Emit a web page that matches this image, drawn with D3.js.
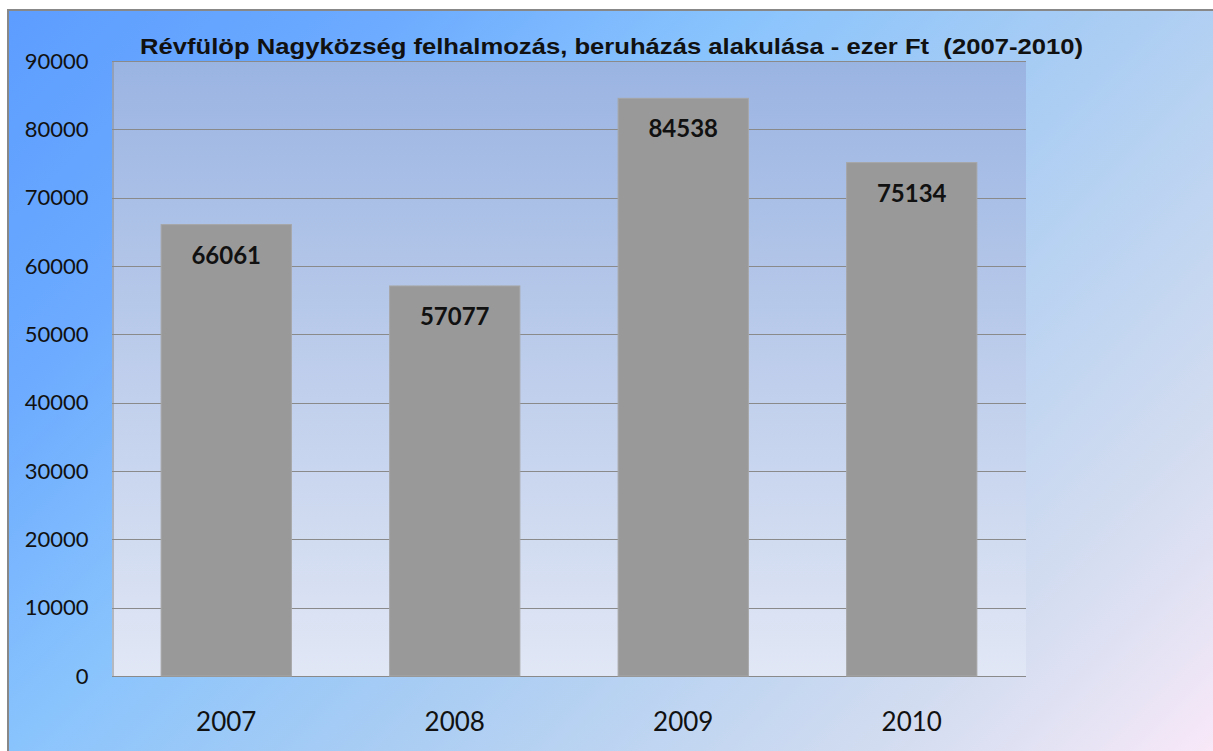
<!DOCTYPE html>
<html>
<head>
<meta charset="utf-8">
<script src="https://cdn.jsdelivr.net/npm/d3@7"></script>
<style>
  html, body { margin: 0; padding: 0; background: #ffffff; }
  svg { display: block; }
</style>
</head>
<body>
<svg id="chart"></svg>
<script>
"use strict";

// adatok
var evek = ["2007", "2008", "2009", "2010"];
var ertekek = [66061, 57077, 84538, 75134];
var yTicks = [0, 10000, 20000, 30000, 40000, 50000, 60000, 70000, 80000, 90000];
var cim = "Révfülöp Nagyközség felhalmozás, beruházás alakulása - ezer Ft  (2007-2010)";

var W = 1213, H = 751;
var plot = { left: 112, top: 61, right: 1026, bottom: 676 };

var svg = d3.select("#chart")
    .attr("width", W)
    .attr("height", H);

var defs = svg.append("defs");

// a diagram hattere (atlos szinatmenet)
var bg = defs.append("linearGradient")
    .attr("id", "bg")
    .attr("gradientUnits", "userSpaceOnUse")
    .attr("x1", 0).attr("y1", 0)
    .attr("x2", 980).attr("y2", 980);
[["0", "#5c9cff"], ["0.21", "#6cabff"], ["0.39", "#8ac4fd"], ["0.58", "#aacdf3"],
 ["0.83", "#d2dcf0"], ["0.92", "#e4e3f4"], ["1", "#f8e8f8"]].forEach(function (s) {
    bg.append("stop").attr("offset", s[0]).attr("stop-color", s[1]);
});

// rajzterulet hattere (fuggoleges szinatmenet)
var pg = defs.append("linearGradient")
    .attr("id", "pg")
    .attr("x1", "0").attr("y1", "0")
    .attr("x2", "0").attr("y2", "1");
pg.append("stop").attr("offset", "0").attr("stop-color", "#9ab4e2");
pg.append("stop").attr("offset", "1").attr("stop-color", "#e1e7f5");

svg.append("rect")
    .attr("x", 8).attr("y", 10)
    .attr("width", W).attr("height", H)
    .attr("fill", "url(#bg)")
    .attr("stroke", "#888888")
    .attr("stroke-width", 2);

var x = d3.scaleBand()
    .domain(evek)
    .range([plot.left, plot.right])
    .paddingInner(0.43)
    .paddingOuter(0.215);

var y = d3.scaleLinear()
    .domain([0, 90000])
    .range([plot.bottom, plot.top]);

svg.append("rect")
    .attr("x", plot.left).attr("y", plot.top)
    .attr("width", plot.right - plot.left)
    .attr("height", plot.bottom - plot.top)
    .attr("fill", "url(#pg)");

// racsvonalak
svg.append("g")
    .selectAll("line")
    .data(yTicks)
    .enter().append("line")
    .attr("x1", plot.left)
    .attr("x2", plot.right)
    .attr("y1", function (d) { return Math.round(y(d)) + 0.5; })
    .attr("y2", function (d) { return Math.round(y(d)) + 0.5; })
    .attr("stroke", "#8a8a8a")
    .attr("stroke-width", 1);

// y tengely
var yAxis = svg.append("g")
    .attr("transform", "translate(" + (plot.left + 0.5) + ",0)")
    .call(d3.axisLeft(y).tickValues(yTicks).tickSize(0).tickPadding(24).tickFormat(d3.format("d")));
yAxis.select(".domain").attr("stroke", "#8a8a8a");
yAxis.selectAll("text")
    .attr("font-family", "Lato, 'Open Sans', sans-serif")
    .attr("font-size", "22px")
    .attr("fill", "#111111");

// x tengely
var xAxis = svg.append("g")
    .attr("transform", "translate(0," + plot.bottom + ")")
    .call(d3.axisBottom(x).tickSize(0).tickPadding(37));
xAxis.select(".domain").remove();
xAxis.selectAll("text")
    .attr("font-family", "Lato, 'Open Sans', sans-serif")
    .attr("font-size", "26px")
    .attr("fill", "#111111");

// oszlopok
svg.append("g")
    .selectAll("rect")
    .data(ertekek)
    .enter().append("rect")
    .attr("x", function (d, i) { return x(evek[i]); })
    .attr("y", function (d) { return y(d); })
    .attr("width", x.bandwidth())
    .attr("height", function (d) { return plot.bottom - y(d); })
    .attr("fill", "#999999")
    .attr("stroke", "#a6a6a6")
    .attr("stroke-width", 1);

// ertekcimkek
svg.append("g")
    .selectAll("text")
    .data(ertekek)
    .enter().append("text")
    .attr("x", function (d, i) { return x(evek[i]) + x.bandwidth() / 2; })
    .attr("y", function (d) { return y(d) + 39; })
    .attr("text-anchor", "middle")
    .attr("font-family", "Lato, 'Open Sans', sans-serif")
    .attr("font-weight", "bold")
    .attr("font-size", "24px")
    .attr("fill", "#111111")
    .text(function (d) { return d; });

// cim
svg.append("text")
    .attr("x", 140)
    .attr("y", 54)
    .attr("font-family", "'Liberation Sans', Arial, sans-serif")
    .attr("font-weight", "bold")
    .attr("font-size", "22px")
    .attr("fill", "#111111")
    .attr("textLength", 943)
    .attr("lengthAdjust", "spacingAndGlyphs")
    .attr("xml:space", "preserve")
    .style("white-space", "pre")
    .text(cim);
</script>
</body>
</html>
